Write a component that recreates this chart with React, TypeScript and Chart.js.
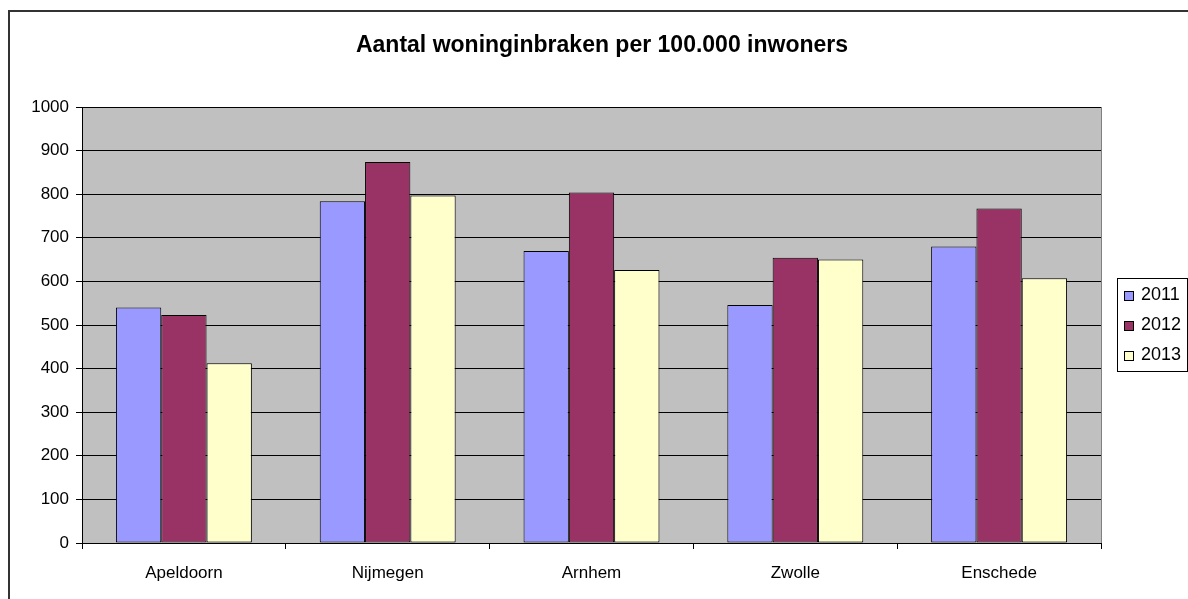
import React, { useEffect, useRef } from "react";
import { Chart, registerables } from "chart.js";

Chart.register(...registerables);

const TITLE = "Aantal woninginbraken per 100.000 inwoners";
const categories = ["Apeldoorn", "Nijmegen", "Arnhem", "Zwolle", "Enschede"];
const seriesLabels = ["2011", "2012", "2013"];
const values2011 = [540, 784, 670, 546, 680];
const values2012 = [523, 874, 804, 654, 767];
const values2013 = [412, 797, 626, 650, 607];
const seriesColors = ["#9999FF", "#993366", "#FFFFCC"];
const yMin = 0;
const yMax = 1000;
const yStep = 100;

const FONT = "'Liberation Sans', Arial, Helvetica, sans-serif";

const decorPlugin = {
  id: "decor",
  beforeDraw(chart: any) {
    const { ctx, chartArea, width, height } = chart;
    ctx.save();
    ctx.fillStyle = "#FFFFFF";
    ctx.fillRect(0, 0, width, height);
    // outer frame
    ctx.strokeStyle = "#333333";
    ctx.lineWidth = 2;
    ctx.strokeRect(9, 11, width + 20, height + 20);
    // plot background
    ctx.fillStyle = "#C0C0C0";
    ctx.fillRect(
      chartArea.left,
      chartArea.top,
      chartArea.right - chartArea.left,
      chartArea.bottom - chartArea.top
    );
    // right border of plot area
    ctx.strokeStyle = "#808080";
    ctx.lineWidth = 1;
    ctx.beginPath();
    ctx.moveTo(chartArea.right + 0.5, chartArea.top);
    ctx.lineTo(chartArea.right + 0.5, chartArea.bottom);
    ctx.stroke();
    ctx.restore();
  },
  afterDraw(chart: any) {
    const { ctx } = chart;
    ctx.save();
    // title
    ctx.fillStyle = "#000000";
    ctx.font = `bold 23px ${FONT}`;
    ctx.textAlign = "center";
    ctx.textBaseline = "alphabetic";
    ctx.fillText(TITLE, 602, 52);
    // legend
    const lx = 1117.5;
    const ly = 278.5;
    const lw = 70;
    const lh = 93;
    ctx.fillStyle = "#FFFFFF";
    ctx.fillRect(lx, ly, lw, lh);
    ctx.strokeStyle = "#000000";
    ctx.lineWidth = 1;
    ctx.strokeRect(lx, ly, lw, lh);
    ctx.font = `18px ${FONT}`;
    ctx.textAlign = "left";
    chart.data.datasets.forEach((ds: any, i: number) => {
      const rowBase = 300 + i * 30;
      ctx.fillStyle = ds.backgroundColor;
      ctx.fillRect(1124.5, rowBase - 8.5, 9, 9);
      ctx.strokeStyle = "#000000";
      ctx.strokeRect(1124.5, rowBase - 8.5, 9, 9);
      ctx.fillStyle = "#000000";
      ctx.fillText(ds.label, 1141, rowBase);
    });
    ctx.restore();
  },
};

export default function App() {
  const canvasRef = useRef<HTMLCanvasElement | null>(null);

  useEffect(() => {
    const canvas = canvasRef.current;
    if (!canvas) return;
    const seriesValues = [values2011, values2012, values2013];
    const chart = new Chart(canvas, {
      type: "bar",
      data: {
        labels: categories,
        datasets: seriesLabels.map((label, i) => ({
          label,
          data: seriesValues[i],
          backgroundColor: seriesColors[i],
          borderColor: "#000000",
          borderWidth: 1,
          borderSkipped: false,
          categoryPercentage: 0.667,
          barPercentage: 1.0,
        })),
      },
      options: {
        responsive: false,
        animation: false,
        devicePixelRatio: 1,
        layout: { padding: { left: 0, top: 107, right: 87, bottom: 0 } },
        plugins: {
          legend: { display: false },
          title: { display: false },
          tooltip: { enabled: false },
        },
        scales: {
          x: {
            grid: {
              offset: true,
              drawOnChartArea: false,
              drawTicks: true,
              tickLength: 6,
              color: "#000000",
              lineWidth: 1,
            },
            border: { display: true, color: "#000000", width: 1 },
            ticks: {
              color: "#000000",
              font: { family: FONT, size: 17 },
              padding: 14,
              maxRotation: 0,
            },
            afterFit(scale: any) {
              scale.height = 56;
            },
          },
          y: {
            min: yMin,
            max: yMax,
            grid: {
              color: "#000000",
              lineWidth: 1,
              tickLength: 6,
              drawTicks: true,
            },
            border: { display: true, color: "#000000", width: 1 },
            ticks: {
              stepSize: yStep,
              color: "#000000",
              font: { family: FONT, size: 17 },
              padding: 7,
              callback: (v: any) => String(v),
            },
            afterFit(scale: any) {
              scale.width = 82;
            },
          },
        },
      },
      plugins: [decorPlugin],
    });
    return () => chart.destroy();
  }, []);

  return (
    <div style={{ position: "absolute", left: 0, top: 0, width: 1188, height: 599 }}>
      <canvas ref={canvasRef} width={1188} height={599} style={{ display: "block" }} />
    </div>
  );
}
